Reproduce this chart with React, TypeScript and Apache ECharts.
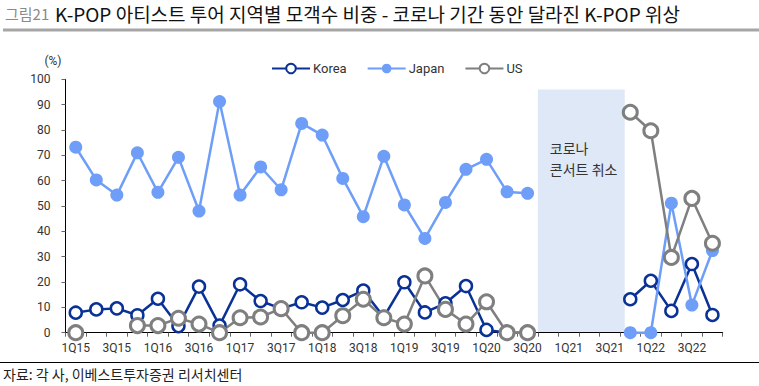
import React, { useEffect, useRef } from "react";
import * as echarts from "echarts";

const categories = [
  "1Q15","2Q15","3Q15","4Q15","1Q16","2Q16","3Q16","4Q16",
  "1Q17","2Q17","3Q17","4Q17","1Q18","2Q18","3Q18","4Q18",
  "1Q19","2Q19","3Q19","4Q19","1Q20","2Q20","3Q20","4Q20",
  "1Q21","2Q21","3Q21","4Q21","1Q22","2Q22","3Q22","4Q22",
];

const korea: (number | null)[] = [
  7.9, 9.2, 9.6, 6.9, 13.4, 2.6, 18.2, 2.8,
  19.1, 12.5, 9.5, 12.0, 9.9, 12.9, 16.6, 6.2,
  19.9, 8.0, 11.6, 18.4, 1.1, 0, 0, null,
  null, null, null, 13.2, 20.5, 8.6, 27.1, 7.0,
];

const japan: (number | null)[] = [
  73.2, 60.3, 54.3, 71.0, 55.4, 69.2, 48.0, 91.2,
  54.3, 65.4, 56.4, 82.6, 78.0, 60.9, 45.8, 69.6,
  50.4, 37.2, 51.4, 64.5, 68.4, 55.6, 55.0, null,
  null, null, null, 0, 0, 51.1, 10.9, 32.4,
];

const us: (number | null)[] = [
  0, null, null, 2.8, 2.8, 5.7, 3.4, 0,
  5.9, 6.2, 9.5, 0, 0, 6.7, 13.2, 5.9,
  3.4, 22.4, 9.2, 3.4, 12.2, 0, 0, null,
  null, null, null, 87.0, 79.7, 29.7, 53.0, 35.3,
];

const bandStart = "3Q20";
const bandEnd = "4Q21";
const bandTop = 96;

const FONT = "'Noto Sans CJK KR', 'Noto Sans', sans-serif";
const LFONT = "Roboto, 'Noto Sans', sans-serif";

export default function App() {
  const ref = useRef<HTMLDivElement>(null);
  useEffect(() => {
    if (!ref.current) return;
    const chart = echarts.init(ref.current, null, { renderer: "svg" });
    const lineSeries = (name: string, data: (number | null)[], color: string, hollow: boolean, size: number, bw: number) => ({
      name,
      type: "line",
      data,
      connectNulls: false,
      symbol: "circle",
      symbolSize: size,
      showAllSymbol: true,
      lineStyle: { color, width: 2.5 },
      itemStyle: hollow
        ? { color: "#ffffff", borderColor: color, borderWidth: bw }
        : { color, borderColor: color, borderWidth: 0 },
      emphasis: { disabled: true },
    });
    chart.setOption({
      animation: false,
      textStyle: { fontFamily: LFONT },
      grid: { left: 65.5, right: 36.3, top: 79.3, bottom: 53.3, containLabel: false },
      legend: {
        top: 57,
        left: 266,
        itemWidth: 38,
        itemHeight: 12,
        itemGap: 20,
        textStyle: { fontSize: 13, color: "#333", fontFamily: LFONT, padding: [0, 0, 0, -2] },
        data: ["Korea", "Japan", "US"],
      },
      xAxis: {
        type: "category",
        data: categories,
        boundaryGap: true,
        axisLine: { lineStyle: { color: "#000", width: 1 } },
        axisTick: { show: true, interval: 0, length: 4, lineStyle: { color: "#666" } },
        axisLabel: { interval: 1, color: "#333", fontSize: 12, margin: 9, fontFamily: LFONT },
      },
      yAxis: {
        type: "value",
        min: 0,
        max: 100,
        interval: 10,
        name: "(%)",
        nameLocation: "end",
        nameGap: 12,
        nameTextStyle: { color: "#333", fontSize: 12, align: "right", padding: [0, 4, 0, 0] },
        splitLine: { show: false },
        axisLine: { show: true, lineStyle: { color: "#000", width: 1 } },
        axisTick: { show: true, length: 4, lineStyle: { color: "#666" } },
        axisLabel: { color: "#333", fontSize: 12, margin: 15, fontFamily: LFONT },
      },
      series: [
        lineSeries("Korea", korea, "#0a3296", true, 12, 2.5),
        lineSeries("Japan", japan, "#6e9ef8", false, 13, 0),
        lineSeries("US", us, "#7f7f7f", true, 14, 3),
      ],
    });

    const i0 = categories.indexOf(bandStart);
    const i1 = categories.indexOf(bandEnd);
    const x0 = chart.convertToPixel({ xAxisIndex: 0 }, categories[i0]) as number;
    const x1 = chart.convertToPixel({ xAxisIndex: 0 }, categories[i0 + 1]) as number;
    const w = x1 - x0;
    const left = x0 + w / 2;
    const right = (chart.convertToPixel({ xAxisIndex: 0 }, categories[i1]) as number) - w * 0.27;
    const yTop = chart.convertToPixel({ yAxisIndex: 0 }, bandTop) as number;
    const yBot = chart.convertToPixel({ yAxisIndex: 0 }, 0) as number;

    chart.setOption({
      graphic: [
        {
          type: "rect",
          z: -1,
          zlevel: 0,
          shape: { x: left, y: yTop, width: right - left, height: yBot - yTop - 0.5 },
          style: { fill: "#dfe8f6" },
          silent: true,
        },
        {
          type: "text",
          x: left + 12,
          y: yTop + 48,
          style: { text: "코로나\n콘서트 취소", fill: "#333", font: `14px ${FONT}`, lineHeight: 21 },
          silent: true,
        },
        {
          type: "text",
          x: 5,
          y: 6,
          style: { text: "그림21", fill: "#8a8a8a", font: `15px ${FONT}` },
        },
        {
          type: "text",
          x: 55,
          y: 4,
          style: { text: "K-POP 아티스트 투어 지역별 모객수 비중 - 코로나 기간 동안 달라진 K-POP 위상", fill: "#111", font: `19px ${FONT}` },
        },
        {
          type: "rect",
          shape: { x: 3, y: 28.5, width: 756, height: 3 },
          style: { fill: "#a6a6a6" },
        },
        {
          type: "line",
          shape: { x1: 0, y1: 362.5, x2: 759, y2: 362.5 },
          style: { stroke: "#000", lineWidth: 1 },
        },
        {
          type: "text",
          x: 3,
          y: 367,
          style: { text: "자료: 각 사, 이베스트투자증권 리서치센터", fill: "#222", font: `14px ${FONT}` },
        },
      ],
    });
    return () => chart.dispose();
  }, []);
  return <div ref={ref} style={{ width: 759, height: 386, position: "absolute", left: 0, top: 0 }} />;
}
